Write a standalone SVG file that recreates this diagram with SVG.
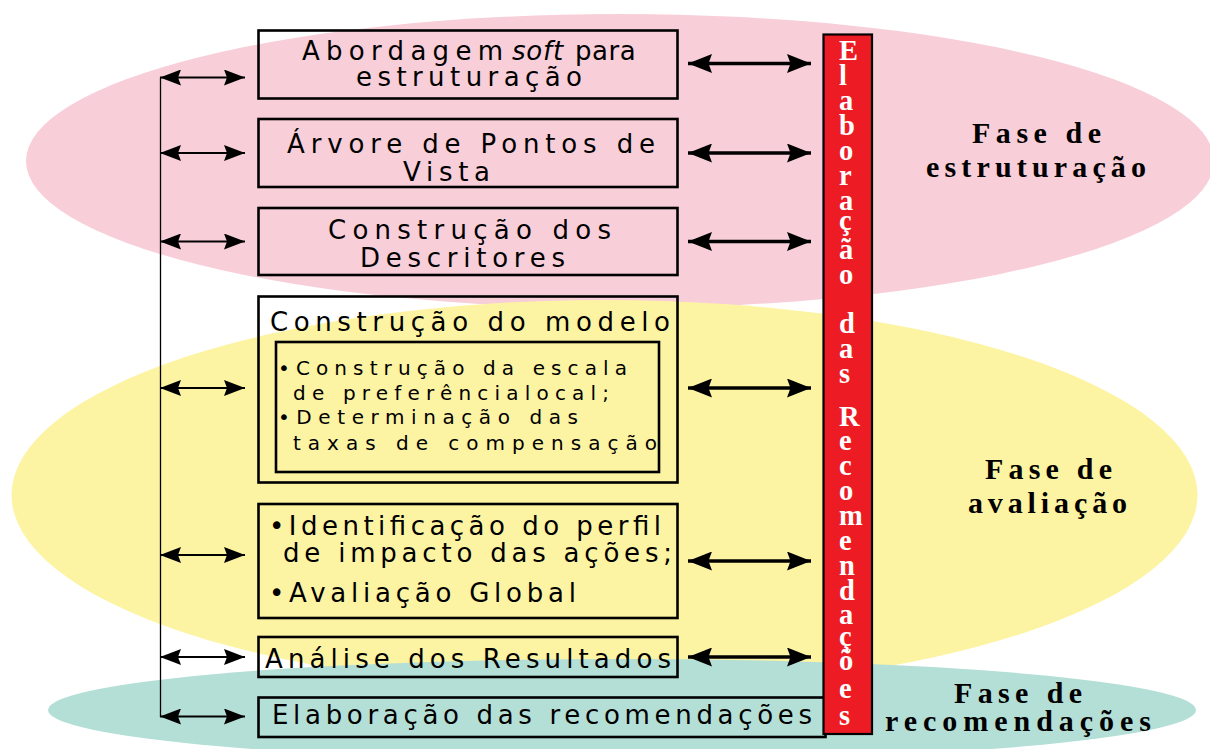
<svg xmlns="http://www.w3.org/2000/svg" width="1210" height="749" viewBox="0 0 1210 749">
<style>
.box{fill:none;stroke:#000;stroke-width:2.6}
.t{font-family:"DejaVu Sans",sans-serif;font-size:26px;fill:#000}
.ti{font-family:"DejaVu Sans",sans-serif;font-size:20px;fill:#000}
.f{font-family:"Liberation Serif","Times New Roman",serif;font-size:30px;font-weight:bold;fill:#000}
.v{font-family:"Liberation Serif","Times New Roman",serif;font-size:28.5px;font-weight:bold;fill:#fff}
.al{stroke:#000;stroke-width:2.2;fill:none;marker-start:url(#hs);marker-end:url(#hs)}
.ar{stroke:#000;stroke-width:3.4;fill:none;marker-start:url(#hl);marker-end:url(#hl)}
</style>
<defs>
<marker id="hs" viewBox="0 0 21 16" refX="21" refY="8" markerWidth="21" markerHeight="16" markerUnits="userSpaceOnUse" orient="auto-start-reverse">
<path d="M0,0 L21,8 L0,16 L3,8 z" fill="#000"/>
</marker>
<marker id="hl" viewBox="0 0 24 19" refX="24" refY="9.5" markerWidth="24" markerHeight="19" markerUnits="userSpaceOnUse" orient="auto-start-reverse">
<path d="M0,0 L24,9.5 L0,19 L3.5,9.5 z" fill="#000"/>
</marker>
</defs>
<rect width="1210" height="749" fill="#fff"/>
<g id="phases">
<ellipse cx="620" cy="161" rx="594" ry="147" fill="#F8CED9"/>
<ellipse cx="604.5" cy="495" rx="593" ry="195" fill="#FDF4A3"/>
<ellipse cx="622" cy="710" rx="574" ry="51" fill="#B3DFD6"/>
</g>
<g id="node-abordagem">
<rect class="box" x="258.5" y="30.5" width="419" height="68"/>
<text class="t" x="302" y="60" textLength="201" lengthAdjust="spacing">Abordagem</text>
<text class="t" x="512" y="60" font-style="italic" letter-spacing="0.8">soft</text>
<text class="t" x="575" y="60" letter-spacing="0.5">para</text>
<text class="t" x="356" y="86" textLength="226" lengthAdjust="spacing">estruturação</text>
</g>
<g id="node-arvore">
<rect class="box" x="258.5" y="119" width="419" height="68"/>
<text class="t" x="287" y="153" textLength="368" lengthAdjust="spacing">Árvore de Pontos de</text>
<text class="t" x="403" y="180.5" textLength="87" lengthAdjust="spacing">Vista</text>
</g>
<g id="node-descritores">
<rect class="box" x="258.5" y="208" width="419" height="67"/>
<text class="t" x="328" y="239" textLength="283" lengthAdjust="spacing">Construção dos</text>
<text class="t" x="360" y="266.5" textLength="205" lengthAdjust="spacing">Descritores</text>
</g>
<g id="node-modelo">
<rect class="box" x="258.5" y="296.5" width="419" height="186"/>
<text class="t" x="270" y="330.5" textLength="400" lengthAdjust="spacing">Construção do modelo</text>
<rect class="box" x="276" y="342" width="383" height="130"/>
<text class="ti" x="278" y="375" textLength="349" lengthAdjust="spacing">•Construção da escala</text>
<text class="ti" x="293" y="400" textLength="316" lengthAdjust="spacing">de preferêncialocal;</text>
<text class="ti" x="278" y="424" textLength="300" lengthAdjust="spacing">•Determinação das</text>
<text class="ti" x="293" y="449.5" textLength="364" lengthAdjust="spacing">taxas de compensação</text>
</g>
<g id="node-avaliacao">
<rect class="box" x="258.5" y="504" width="419" height="114"/>
<text class="t" x="269" y="535" textLength="392" lengthAdjust="spacing">•Identificação do perfil</text>
<text class="t" x="283" y="561.7" textLength="389" lengthAdjust="spacing">de impacto das ações;</text>
<text class="t" x="269" y="601.7" textLength="307" lengthAdjust="spacing">•Avaliação Global</text>
</g>
<g id="node-analise">
<rect class="box" x="258.5" y="637" width="419" height="40"/>
<text class="t" x="265" y="667.5" textLength="406" lengthAdjust="spacing">Análise dos Resultados</text>
</g>
<g id="node-elaboracao">
<rect class="box" x="258.5" y="697.5" width="567" height="39.5"/>
<text class="t" x="272" y="724" textLength="540" lengthAdjust="spacing">Elaboração das recomendações</text>
</g>
<g id="node-recomendacoes-bar">
<rect x="823.5" y="34.5" width="48.5" height="699.5" fill="#ED1C24" stroke="#000" stroke-width="2.2"/>
<text class="v"><tspan x="839" y="59.5">E</tspan><tspan x="839" y="85">l</tspan><tspan x="839" y="110">a</tspan><tspan x="839" y="135">b</tspan><tspan x="839" y="160">o</tspan><tspan x="839" y="185">r</tspan><tspan x="839" y="210">a</tspan><tspan x="839" y="230">ç</tspan><tspan x="839" y="259">ã</tspan><tspan x="839" y="284">o</tspan><tspan x="839" y="333">d</tspan><tspan x="839" y="358">a</tspan><tspan x="839" y="383">s</tspan><tspan x="839" y="426">R</tspan><tspan x="839" y="450">e</tspan><tspan x="839" y="475">c</tspan><tspan x="839" y="500">o</tspan><tspan x="839" y="525">m</tspan><tspan x="839" y="550">e</tspan><tspan x="839" y="575">n</tspan><tspan x="839" y="600">d</tspan><tspan x="839" y="624">a</tspan><tspan x="839" y="646">ç</tspan><tspan x="839" y="670">õ</tspan><tspan x="839" y="698">e</tspan><tspan x="839" y="725">s</tspan></text>
</g>
<g id="label-estruturacao">
<text class="f" x="972" y="143" textLength="129" lengthAdjust="spacing">Fase de</text>
<text class="f" x="926" y="177" textLength="220" lengthAdjust="spacing">estruturação</text>
</g>
<g id="label-avaliacao">
<text class="f" x="985" y="478.5" textLength="127" lengthAdjust="spacing">Fase de</text>
<text class="f" x="968" y="513" textLength="159" lengthAdjust="spacing">avaliação</text>
</g>
<g id="label-recomendacoes">
<text class="f" x="954" y="703" textLength="128" lengthAdjust="spacing">Fase de</text>
<text class="f" x="885" y="730.5" textLength="266" lengthAdjust="spacing">recomendações</text>
</g>
<g id="connectors">
<line x1="160.5" y1="77.5" x2="160.5" y2="717" stroke="#000" stroke-width="1.3"/>
<line class="al" x1="160" y1="77.5" x2="245" y2="77.5"/>
<line class="al" x1="160" y1="153" x2="245" y2="153"/>
<line class="al" x1="160" y1="241.5" x2="245" y2="241.5"/>
<line class="al" x1="160" y1="388" x2="245" y2="388"/>
<line class="al" x1="160" y1="555" x2="245" y2="555"/>
<line class="al" x1="160" y1="657" x2="245" y2="657"/>
<line class="al" x1="160" y1="716.5" x2="245" y2="716.5"/>
<line class="ar" x1="688" y1="63.5" x2="811" y2="63.5"/>
<line class="ar" x1="688" y1="153" x2="811" y2="153"/>
<line class="ar" x1="688" y1="241.5" x2="811" y2="241.5"/>
<line class="ar" x1="688" y1="388" x2="811" y2="388"/>
<line class="ar" x1="688" y1="561" x2="811" y2="561"/>
<line class="ar" x1="688" y1="657" x2="811" y2="657"/>
</g>
</svg>
